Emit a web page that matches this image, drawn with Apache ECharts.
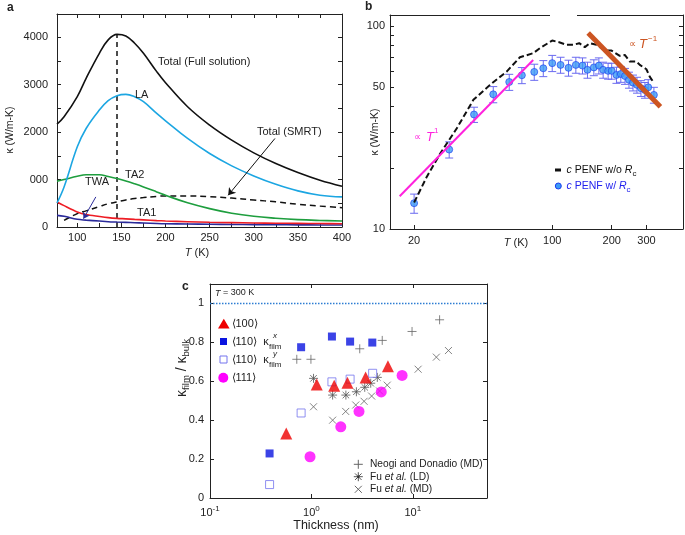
<!DOCTYPE html>
<html>
<head>
<meta charset="utf-8">
<script src="https://cdn.jsdelivr.net/npm/echarts@6/dist/echarts.min.js"></script>
<style>
  html, body { margin: 0; padding: 0; background: #fff; }
  #chart { width: 685px; height: 535px; }
</style>
</head>
<body>
<div id="chart"></div>
<script>
// ---- panel a : kappa vs T, branch contributions ----
const tempA = [77, 85, 100, 110, 125, 135, 145, 155, 165, 175, 190, 200, 225, 250, 275, 300, 325, 350, 375, 400];
const kTotalFull = [2168, 2324, 2750, 3134, 3662, 3944, 4060, 4028, 3873, 3662, 3275, 3042, 2535, 2148, 1831, 1563, 1338, 1148, 986, 859];
const kLA = [507, 845, 1690, 2077, 2465, 2662, 2768, 2796, 2746, 2641, 2394, 2239, 1866, 1549, 1289, 1077, 901, 761, 669, 634];
const kTA2 = [965, 1000, 1070, 1100, 1100, 1065, 1021, 970, 910, 845, 740, 669, 510, 387, 290, 225, 185, 155, 138, 127];
const kTA1 = [528, 450, 317, 262, 222, 198, 182, 172, 160, 150, 135, 127, 112, 100, 92, 85, 80, 76, 73, 70];
const kTWA = [246, 225, 162, 145, 125, 112, 104, 97, 90, 85, 75, 70, 63, 58, 54, 50, 47, 45, 43, 42];
const kSMRT = [null, 141, 282, 340, 430, 490, 528, 570, 600, 620, 645, 655, 655, 640, 610, 570, 530, 480, 440, 408];
const peakT = 145, peakK = 4060;
const xTicksA = [100, 125, 150, 175, 200, 225, 250, 275, 300, 325, 350, 375, 400];
const xLabelsA = [100, 150, 200, 250, 300, 350, 400];
const yTicksA = [0, 500, 1000, 1500, 2000, 2500, 3000, 3500, 4000];
const yLabelsA = [0, 1000, 2000, 3000, 4000];

// ---- panel b : cPENF, log-log ----
const tempBLine = [20, 23.2, 27.1, 32.9, 39.9, 48.4, 58.8, 68.6, 80.1, 86.6, 100, 109.3, 118.1, 127.7, 136.9, 146.2, 155, 167.5, 184.6, 199.5, 219.8, 233, 246.9, 266.9, 277.4, 299.6, 311.4, 323.9];
const kBLine = [13.5, 18.1, 23.5, 31.3, 43.2, 51.2, 59.5, 70.0, 73.3, 77.6, 84.6, 82.8, 80.6, 80.6, 82.1, 78.5, 82.1, 80.6, 75.5, 75.5, 71.1, 71.9, 66.7, 66.7, 64.2, 61.1, 56.2, 53.1];
const tempB = [20, 30.1, 40.2, 50.3, 60.6, 70.2, 81.1, 90.1, 100, 110.2, 120.9, 131.7, 142.3, 150.8, 162.4, 172.2, 181, 191.8, 200, 211.4, 222.4, 233.5, 244.6, 256.3, 268.5, 281.2, 294.5, 306, 327];
const kB = [13.4, 24.6, 36.6, 46.0, 52.9, 57.1, 59.3, 61.8, 65.5, 64.2, 62.1, 64.2, 63.7, 60.7, 62.4, 63.7, 60.7, 60.0, 60.0, 57.3, 57.9, 56.6, 54.2, 52.5, 51.2, 49.3, 48.3, 49.8, 45.7];
const errB = [1.45, 2.25, 3.15, 4.2, 4.8, 5.2, 5.4, 5.6, 6.0, 5.8, 5.6, 5.8, 5.8, 5.5, 5.6, 5.8, 5.5, 5.4, 5.4, 5.2, 5.2, 5.1, 4.9, 4.7, 4.6, 4.4, 4.3, 4.5, 4.1];
const fitT1 = [[16.9, 14.5], [80.1, 67.9]];
const fitTm1 = [[152, 92.1], [352.8, 40.0]];
const xTicksB = [20, 100, 200, 300];
const yTicksB = [10, 20, 30, 40, 50, 60, 70, 80, 90, 100];
const yLabelsB = [10, 50, 100];

// ---- panel c : thin film ratio ----
const thick100 = [0.565, 1.13, 1.68, 2.27, 3.43, 5.69];
const ratio100 = [0.332, 0.583, 0.577, 0.592, 0.62, 0.677];
const thick110 = [0.387, 0.792, 1.595, 2.41, 3.99];
const ratio110x = [0.229, 0.775, 0.83, 0.804, 0.799];
const thick110y = [0.387, 0.792, 1.595, 2.41, 4.02];
const ratio110y = [0.069, 0.437, 0.597, 0.611, 0.641];
const thick111 = [0.97, 1.95, 2.95, 4.89, 7.85];
const ratio111 = [0.212, 0.366, 0.445, 0.545, 0.63];
const thickNeogi = [0.718, 0.99, 3.0, 5.0, 9.84, 18.4];
const ratioNeogi = [0.713, 0.713, 0.767, 0.81, 0.856, 0.916];
const thickFuLD = [1.05, 1.62, 2.19, 2.78, 3.36, 3.85, 4.47];
const ratioFuLD = [0.615, 0.529, 0.529, 0.546, 0.569, 0.59, 0.62];
const thickFuMD = [1.05, 1.62, 2.18, 2.74, 3.31, 3.93, 4.71, 5.6, 11.3, 17.1, 22.5];
const ratioFuMD = [0.469, 0.40, 0.445, 0.478, 0.497, 0.524, 0.55, 0.58, 0.662, 0.724, 0.758];
const bulkRatio = 1;
const xRangeC = [0.1, 54];
const yTicksC = [0, 0.2, 0.4, 0.6, 0.8, 1];

const FONT = 'Liberation Sans';
const INK = '#222';

const chart = echarts.init(document.getElementById('chart'));

function pairs(xs, ys) {
  return xs.map((x, i) => [x, ys[i]]);
}

// axis helper, ticks point inwards like the original figure
function axis(opt) {
  return {
    gridIndex: opt.grid,
    type: opt.type || 'value',
    position: opt.position,
    min: opt.min,
    max: opt.max,
    logBase: 10,
    axisLine: { show: true, onZero: false, lineStyle: { color: INK, width: 1 } },
    axisTick: {
      show: opt.ticks !== false,
      inside: true,
      length: opt.tickLen || 4,
      customValues: opt.ticks || undefined,
      lineStyle: { color: INK, width: 1 }
    },
    axisLabel: {
      show: !!opt.labels,
      customValues: opt.labels || undefined,
      formatter: opt.formatter,
      margin: opt.margin || 5,
      color: INK,
      fontSize: 11,
      fontFamily: FONT,
      rich: opt.rich
    },
    splitLine: { show: false }
  };
}

const richBase = {
  i: { fontStyle: 'italic', fontFamily: FONT, fontSize: 11, fill: INK }
};

function txt(x, y, text, o) {
  o = o || {};
  const al = o.align || 'left';
  return {
    type: 'text', x: x, y: y, rotation: o.rot || 0, z: 100,
    style: {
      text: text,
      fill: o.color || INK,
      fontSize: o.size || 11,
      fontFamily: FONT,
      fontStyle: o.italic ? 'italic' : 'normal',
      fontWeight: o.bold ? 'bold' : 'normal',
      align: al, textAlign: al,
      verticalAlign: 'middle', textVerticalAlign: 'middle',
      rich: o.rich
    }
  };
}

function seg(x1, y1, x2, y2, color, w) {
  return { type: 'line', z: 100, shape: { x1: x1, y1: y1, x2: x2, y2: y2 }, style: { stroke: color, lineWidth: w || 1 } };
}

function plusIcon(cx, cy, r, color) {
  return { type: 'group', children: [seg(cx - r, cy, cx + r, cy, color), seg(cx, cy - r, cx, cy + r, color)] };
}
function crossIcon(cx, cy, r, color) {
  return { type: 'group', children: [seg(cx - r, cy - r, cx + r, cy + r, color), seg(cx - r, cy + r, cx + r, cy - r, color)] };
}
function starIcon(cx, cy, r, color) {
  const d = r * 0.72;
  return { type: 'group', children: [
    seg(cx - r, cy, cx + r, cy, color), seg(cx, cy - r, cx, cy + r, color),
    seg(cx - d, cy - d, cx + d, cy + d, color), seg(cx - d, cy + d, cx + d, cy - d, color),
    { type: 'circle', z: 101, shape: { cx: cx, cy: cy, r: 1.2 }, style: { fill: '#333' } }
  ] };
}

const plusPath = 'path://M5,0L5,10M0,5L10,5';
const crossPath = 'path://M0,0L10,10M0,10L10,0';
const starPath = 'path://M5,0L5,10M0,5L10,5M1.4,1.4L8.6,8.6M1.4,8.6L8.6,1.4';

function line(name, xi, data, color, width, type, extra) {
  return Object.assign({
    name: name, type: 'line', xAxisIndex: xi, yAxisIndex: xi,
    data: data, showSymbol: false, symbol: 'none',
    lineStyle: { color: color, width: width, type: type || 'solid' },
    itemStyle: { color: color },
    silent: true
  }, extra || {});
}

function scatter(name, xi, data, symbol, size, style, extra) {
  return Object.assign({
    name: name, type: 'scatter', xAxisIndex: xi, yAxisIndex: xi,
    data: data, symbol: symbol, symbolSize: size, itemStyle: style
  }, extra || {});
}

function subRich(color, size) {
  return {
    i: { fontStyle: 'italic', fontFamily: FONT, fontSize: size, fill: color },
    sub: { fontFamily: FONT, fontSize: 8, fill: color, padding: [7, 0, 0, 0] }
  };
}

const greyMark = { color: 'rgba(0,0,0,0)', borderColor: '#666', borderWidth: 1 };

const option = {
  animation: false,
  backgroundColor: '#fff',
  grid: [
    { left: 57, top: 14, width: 285, height: 213 },
    { left: 390, top: 15, width: 293, height: 214 },
    { left: 210, top: 284, width: 277, height: 214 }
  ],
  xAxis: [
    axis({ grid: 0, min: 77, max: 400, ticks: xTicksA, labels: xLabelsA, margin: 5 }),
    axis({ grid: 0, position: 'top', min: 77, max: 400, ticks: xTicksA }),
    axis({ grid: 1, type: 'log', min: 15.1, max: 459, ticks: xTicksB, labels: xTicksB, margin: 6 }),
    axis({ grid: 1, type: 'log', position: 'top', min: 15.1, max: 459, ticks: false }),
    axis({ grid: 2, type: 'log', min: xRangeC[0], max: xRangeC[1], ticks: [0.1, 1, 10], labels: [0.1, 1, 10], margin: 7,
      formatter: v => '{b|10}{s|' + Math.round(Math.log10(v)) + '}',
      rich: { b: { fontSize: 11, fontFamily: FONT, fill: INK }, s: { fontSize: 8, fontFamily: FONT, padding: [0, 0, 7, 0] } } }),
    axis({ grid: 2, type: 'log', position: 'top', min: xRangeC[0], max: xRangeC[1], ticks: [1, 10] })
  ],
  yAxis: [
    axis({ grid: 0, min: 0, max: 4490, ticks: yTicksA, labels: yLabelsA, margin: 9,
      formatter: v => (v === 1000 ? '000' : String(v)) }),
    axis({ grid: 0, position: 'right', min: 0, max: 4490, ticks: yTicksA }),
    axis({ grid: 1, type: 'log', min: 10, max: 113, ticks: yTicksB, labels: yLabelsB, margin: 5 }),
    axis({ grid: 1, type: 'log', position: 'right', min: 10, max: 113, ticks: yTicksB }),
    axis({ grid: 2, min: 0, max: 1.1, ticks: yTicksC, labels: yTicksC, margin: 6 }),
    axis({ grid: 2, position: 'right', min: 0, max: 1.1, ticks: yTicksC })
  ],
  series: [
    // panel a
    line('peak', 0, [[peakT, 0], [peakT, peakK]], '#111', 1.5, [5, 4]),
    line('Total (SMRT)', 0, pairs(tempA, kSMRT), '#111', 1.5, [6, 4], {
      smooth: 0.4,
      markLine: {
        silent: true, symbol: ['none', 'arrow'], symbolSize: 7, label: { show: false },
        lineStyle: { color: '#111', width: 1, type: 'solid' },
        data: [[{ coord: [324, 1866] }, { coord: [271, 669] }]]
      }
    }),
    line('TWA', 0, pairs(tempA, kTWA), '#2a2a9a', 1.6, 'solid', {
      smooth: 0.4,
      markLine: {
        silent: true, symbol: ['none', 'arrow'], symbolSize: 6, label: { show: false },
        lineStyle: { color: '#2a2a9a', width: 1, type: 'solid' },
        data: [[{ coord: [121, 634] }, { coord: [107, 176] }]]
      }
    }),
    line('TA1', 0, pairs(tempA, kTA1), '#ee1c24', 1.6, 'solid', { smooth: 0.3 }),
    line('TA2', 0, pairs(tempA, kTA2), '#1e9e3e', 1.6, 'solid', { smooth: 0.4 }),
    line('LA', 0, pairs(tempA, kLA), '#1ca6e2', 1.6, 'solid', { smooth: 0.4 }),
    line('Total (Full solution)', 0, pairs(tempA, kTotalFull), '#111', 1.6, 'solid', { smooth: 0.4 }),

    // panel b
    line('cPENF w/o Rc', 2, pairs(tempBLine, kBLine), '#111', 2, [6, 3]),
    line('T1', 2, fitT1, '#ff22dd', 2),
    line('T-1', 2, fitTm1, '#cc5522', 5),
    {
      name: 'err', type: 'custom', xAxisIndex: 2, yAxisIndex: 2, silent: true,
      data: tempB.map((t, i) => [t, kB[i] - errB[i], kB[i] + errB[i]]),
      renderItem: function (params, api) {
        const top = api.coord([api.value(0), api.value(2)]);
        const bot = api.coord([api.value(0), api.value(1)]);
        const w = 4;
        const st = { stroke: '#6a6af0', lineWidth: 1 };
        return { type: 'group', children: [
          { type: 'line', shape: { x1: top[0], y1: top[1], x2: bot[0], y2: bot[1] }, style: st },
          { type: 'line', shape: { x1: top[0] - w, y1: top[1], x2: top[0] + w, y2: top[1] }, style: st },
          { type: 'line', shape: { x1: bot[0] - w, y1: bot[1], x2: bot[0] + w, y2: bot[1] }, style: st }
        ] };
      }
    },
    scatter('cPENF w/ Rc', 2, pairs(tempB, kB), 'circle', 7, { color: '#3d9bf5', borderColor: '#1a3cf0', borderWidth: 0.8 }),

    // panel c
    line('bulk', 4, [[xRangeC[0], bulkRatio], [xRangeC[1], bulkRatio]], '#2d7dd2', 1.5, [1.5, 1.5]),
    scatter('Neogi and Donadio (MD)', 4, pairs(thickNeogi, ratioNeogi), plusPath, 9, greyMark),
    scatter('Fu et al. (MD)', 4, pairs(thickFuMD, ratioFuMD), crossPath, 7, greyMark),
    scatter('Fu et al. (LD)', 4, pairs(thickFuLD, ratioFuLD), starPath, 9, { color: 'rgba(0,0,0,0)', borderColor: '#555', borderWidth: 1 }),
    scatter('<110> y', 4, pairs(thick110y, ratio110y), 'rect', 8, { color: '#fff', borderColor: '#7474ee', borderWidth: 1 }),
    scatter('<110> x', 4, pairs(thick110, ratio110x), 'rect', 8, { color: '#0a14e0' }),
    scatter('<100>', 4, pairs(thick100, ratio100), 'triangle', 12, { color: '#ee0000' }),
    scatter('<111>', 4, pairs(thick111, ratio111), 'circle', 11, { color: '#ff00ff' })
  ],
  graphic: [
    // panel a texts
    txt(7, 8, 'a', { bold: true, size: 12 }),
    txt(158, 62, 'Total (Full solution)'),
    txt(135, 95, 'LA'),
    txt(257, 132, 'Total (SMRT)'),
    txt(125, 175, 'TA2'),
    txt(85, 182, 'TWA'),
    txt(137, 213, 'TA1'),
    txt(10, 130, 'κ (W/m-K)', { rot: Math.PI / 2, align: 'center', size: 10.5 }),
    txt(197, 253, '{i|T} (K)', { align: 'center', rich: richBase }),

    // panel b texts
    txt(365, 7, 'b', { bold: true, size: 12 }),
    { type: 'rect', z: 90, shape: { x: 550, y: 12, width: 27, height: 6 }, style: { fill: '#fff' } },
    txt(414, 137, '∝', { color: '#ff22dd', size: 10 }),
    txt(426, 137, 'T', { color: '#ff22dd', size: 13, italic: true }),
    txt(434, 131, '1', { color: '#ff22dd', size: 8 }),
    txt(629, 44, '∝', { color: '#cc5522', size: 10 }),
    txt(639, 44, 'T', { color: '#cc5522', size: 13, italic: true }),
    txt(648, 39, '−1', { color: '#cc5522', size: 8 }),
    seg(555, 170, 561, 170, '#111', 3),
    txt(566.5, 170, '{i|c} PENF w/o {i|R}{sub|c}', { size: 10.5, color: '#111', rich: subRich('#111', 10.5) }),
    { type: 'circle', z: 100, shape: { cx: 558.3, cy: 186, r: 3 }, style: { fill: '#3d9bf5', stroke: '#1a3cf0', lineWidth: 1 } },
    txt(566.5, 186, '{i|c} PENF w/ {i|R}{sub|c}', { size: 10.5, color: '#2222ee', rich: subRich('#2222ee', 10.5) }),
    txt(375, 132, 'κ (W/m-K)', { rot: Math.PI / 2, align: 'center', size: 10.5 }),
    txt(516, 243, '{i|T} (K)', { align: 'center', rich: richBase }),

    // panel c texts
    txt(182, 287, 'c', { bold: true, size: 12 }),
    txt(215, 293, '{i|T} = 300 K', { size: 9, rich: { i: { fontStyle: 'italic', fontFamily: FONT, fontSize: 9, fill: INK } } }),
    { type: 'polygon', z: 100, shape: { points: [[223.8, 318.8], [229.6, 328.6], [218, 328.6]] }, style: { fill: '#ee0000' } },
    txt(231.5, 324, '⟨100⟩'),
    { type: 'rect', z: 100, shape: { x: 220, y: 338, width: 7, height: 7 }, style: { fill: '#0a14e0' } },
    txt(231.5, 342, '⟨110⟩  κ'),
    txt(273, 336, 'x', { size: 8, italic: true }),
    txt(269, 347, 'film', { size: 8 }),
    { type: 'rect', z: 100, shape: { x: 220, y: 356, width: 7, height: 7 }, style: { fill: '#fff', stroke: '#7474ee', lineWidth: 1 } },
    txt(231.5, 360, '⟨110⟩  κ'),
    txt(273, 354, 'y', { size: 8, italic: true }),
    txt(269, 365, 'film', { size: 8 }),
    { type: 'circle', z: 100, shape: { cx: 223.3, cy: 377.7, r: 5 }, style: { fill: '#ff00ff' } },
    txt(231.5, 378, '⟨111⟩'),
    plusIcon(358.3, 464.3, 4.5, '#666'),
    txt(370, 464.3, 'Neogi and Donadio (MD)', { size: 10.2 }),
    starIcon(358.3, 476.7, 4.5, '#555'),
    txt(370, 476.7, 'Fu {i|et al.} (LD)', { size: 10.2, rich: { i: { fontStyle: 'italic', fontFamily: FONT, fontSize: 10.2, fill: INK } } }),
    crossIcon(358.3, 489.3, 3.5, '#666'),
    txt(370, 489.3, 'Fu {i|et al.} (MD)', { size: 10.2, rich: { i: { fontStyle: 'italic', fontFamily: FONT, fontSize: 10.2, fill: INK } } }),
    txt(182, 368, '{k|κ}{s|film}{k| / κ}{s|bulk}', { rot: Math.PI / 2, align: 'center', size: 14, rich: {
      k: { fontFamily: FONT, fontSize: 14, fill: INK },
      s: { fontFamily: FONT, fontSize: 9.5, fill: INK, padding: [9, 0, 0, 0] } } }),
    txt(336, 526, 'Thickness (nm)', { align: 'center', size: 12.5 })
  ]
};

chart.setOption(option);
</script>
</body>
</html>
